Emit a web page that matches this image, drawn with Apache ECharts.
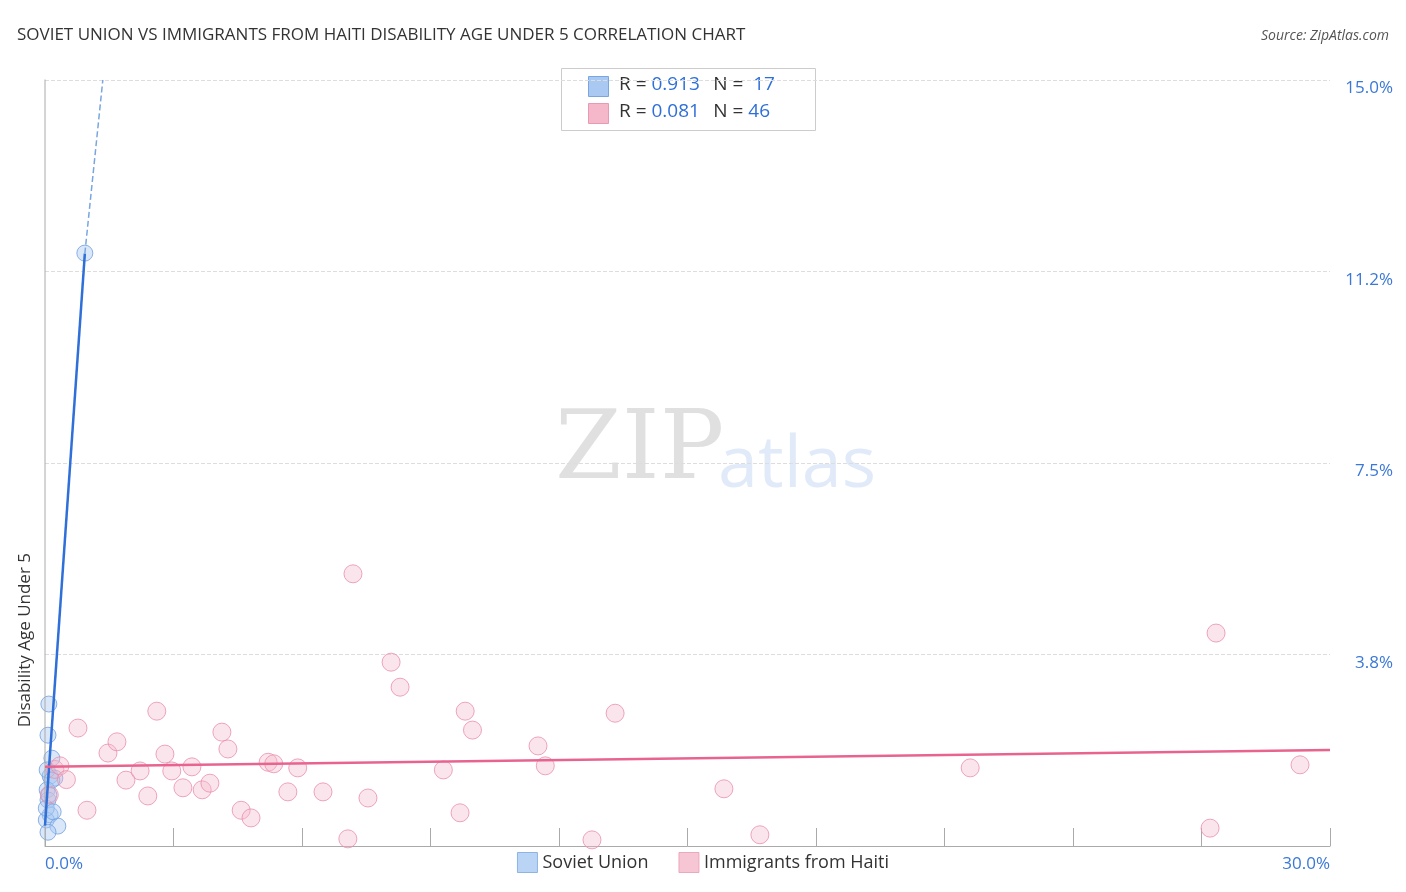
<!DOCTYPE html>
<html><head><meta charset="utf-8">
<script src="https://cdn.jsdelivr.net/npm/echarts@6/dist/echarts.min.js"></script>
<style>html,body{margin:0;padding:0;background:#fff}#c{width:1406px;height:892px}</style>
</head><body><div id="c"></div>
<script>
var sovietPts = [[0.09,2.78],[0.07,2.17],[0.16,1.72],[0.12,1.37],[0.23,1.33],[0.05,1.10],[0.07,0.90],[0.12,0.61],[0.03,0.51],[0.3,0.39],[0.07,0.27],[0.93,11.61],[0.05,1.49],[0.16,1.29],[0.03,0.74],[0.09,1.0],[0.19,0.67]];
var haitiPts = [[0.77,2.31],[1.47,1.82],[1.68,2.04],[0.98,0.70],[1.89,1.29],[2.22,1.47],[2.40,0.98],[2.61,2.64],[2.80,1.80],[2.96,1.47],[3.22,1.14],[3.43,1.55],[3.67,1.10],[3.85,1.23],[4.13,2.23],[4.27,1.90],[4.58,0.70],[4.81,0.55],[5.21,1.64],[5.34,1.61],[5.67,1.06],[5.90,1.53],[6.49,1.06],[7.07,0.14],[7.19,5.33],[7.54,0.94],[8.08,3.60],[8.29,3.11],[9.30,1.49],[9.69,0.65],[9.81,2.64],[9.98,2.27],[11.51,1.96],[11.68,1.57],[12.77,0.12],[13.31,2.60],[15.85,1.12],[16.69,0.22],[21.6,1.53],[27.2,0.35],[27.34,4.17],[29.3,1.59],[0.23,1.5],[0.35,1.57],[0.1,1.0],[0.5,1.3]];
var sovietFit = [[0.0,0.4],[0.93,11.6]];
var sovietFitExt = [[0.93,11.6],[1.35,15.0]];
var haitiFit = [[0,1.55],[30,1.88]];
var yLabels = {'3.75':'3.8%','7.5':'7.5%','11.25':'11.2%','15':'15.0%'};

var blue = '#a9c9f2', blueLine = '#2f6fd8', pink = '#f5b8cb', pinkLine = '#e8648f';
var chart = echarts.init(document.getElementById('c'));
chart.setOption({
  animation: false,
  title: [{text: 'SOVIET UNION VS IMMIGRANTS FROM HAITI DISABILITY AGE UNDER 5 CORRELATION CHART', left: 12, top: 22,
    textStyle: {fontSize: 17, fontWeight: 'normal', color: '#333', fontFamily: 'Open Sans'}},
    {text: 'Source: ZipAtlas.com', right: 12, top: 24, textStyle: {fontSize: 14, fontWeight: 'normal', fontStyle: 'italic', color: '#555', fontFamily: 'Open Sans'}}],
  grid: {left: 45, right: 76, top: 80, bottom: 46, containLabel: false, outerBoundsMode: 'none'},
  legend: {bottom: 14, left: 'center', itemWidth: 20, itemHeight: 20, itemGap: 30, icon: 'rect',
    textStyle: {fontSize: 18, color: '#333', fontFamily: 'Open Sans'},
    data: [{name: 'Soviet Union', itemStyle: {color: blue, borderColor: '#7aa6e0', borderWidth: 1}},
           {name: 'Immigrants from Haiti', itemStyle: {color: pink, borderColor: '#e89ab2', borderWidth: 1}}]},
  graphic: [
    {type: 'text', left: 555, top: 405, style: {text: 'ZIP', fontSize: 96, fontFamily: 'DejaVu Serif', fill: 'rgba(0,0,0,0.12)'}},
    {type: 'text', left: 718, top: 430, style: {text: 'atlas', fontSize: 72, fontFamily: 'Open Sans', fill: 'rgba(90,140,220,0.18)'}},
    {type: 'text', left: 17, top: 553, rotation: Math.PI / 2, style: {text: 'Disability Age Under 5', fontSize: 17, fill: '#333', fontFamily: 'Open Sans'}},
    {type: 'rect', left: 561, top: 68, shape: {width: 254, height: 62}, style: {fill: '#fff', stroke: '#ccc'}},
    {type: 'rect', left: 588, top: 76, shape: {width: 20, height: 20}, style: {fill: blue, stroke: '#7aa6e0'}},
    {type: 'rect', left: 588, top: 103, shape: {width: 20, height: 20}, style: {fill: pink, stroke: '#e89ab2'}},
    {type: 'text', left: 619, top: 75, style: {text: '{a|R = }{b|0.913}    {a|N = }{b| 17}', rich: {a: {fontSize: 19, fill: '#333', fontFamily: 'Open Sans'}, b: {fontSize: 19, fill: '#2f6fd8', fontFamily: 'Open Sans'}}}},
    {type: 'text', left: 619, top: 102, style: {text: '{a|R = }{b|0.081}    {a|N = }{b|46}', rich: {a: {fontSize: 19, fill: '#333', fontFamily: 'Open Sans'}, b: {fontSize: 19, fill: '#2f6fd8', fontFamily: 'Open Sans'}}}}
  ],
  xAxis: {type: 'value', min: 0, max: 30, interval: 3,
    axisLine: {lineStyle: {color: '#aaa'}},
    axisTick: {inside: true, length: 18, lineStyle: {color: '#aaa'}},
    splitLine: {show: false},
    axisLabel: {fontSize: 17, color: '#3a78d8', fontFamily: 'Open Sans', margin: 10,
      formatter: function (v) { return v === 0 ? '0.0%' : (v === 30 ? '30.0%' : ''); },
      alignMinLabel: 'left', alignMaxLabel: 'right'}},
  yAxis: {type: 'value', min: 0, max: 15, interval: 3.75, position: 'right',
    axisLine: {show: false}, axisTick: {show: false},
    splitLine: {lineStyle: {type: 'dashed', color: '#ddd'}},
    axisLabel: {fontSize: 17, color: '#3a78d8', fontFamily: 'Open Sans', margin: 63, align: 'right', verticalAlign: 'top',
      formatter: function (v) { return yLabels[String(v)] || ''; }}},
  series: [
    {name: 'Soviet Union', type: 'scatter', data: sovietPts, symbolSize: 16,
      itemStyle: {color: 'rgba(169,201,242,0.55)', borderColor: '#6f9fe0', borderWidth: 1}},
    {name: 'Immigrants from Haiti', type: 'scatter', data: haitiPts, symbolSize: 18,
      itemStyle: {color: 'rgba(245,184,203,0.45)', borderColor: '#e88fae', borderWidth: 1}},
    {type: 'line', data: sovietFit, symbol: 'none', lineStyle: {color: blueLine, width: 2.5}, z: 5},
    {type: 'line', data: sovietFitExt, symbol: 'none', lineStyle: {color: '#7aa6e0', width: 1.5, type: 'dashed'}, z: 5},
    {type: 'line', data: haitiFit, symbol: 'none', lineStyle: {color: pinkLine, width: 2.5}, z: 5},
    {type: 'line', data: [[0,0],[0,15.6]], symbol: 'none', silent: true, lineStyle: {color: '#aaa', width: 1}}
  ]
});
</script></body></html>
